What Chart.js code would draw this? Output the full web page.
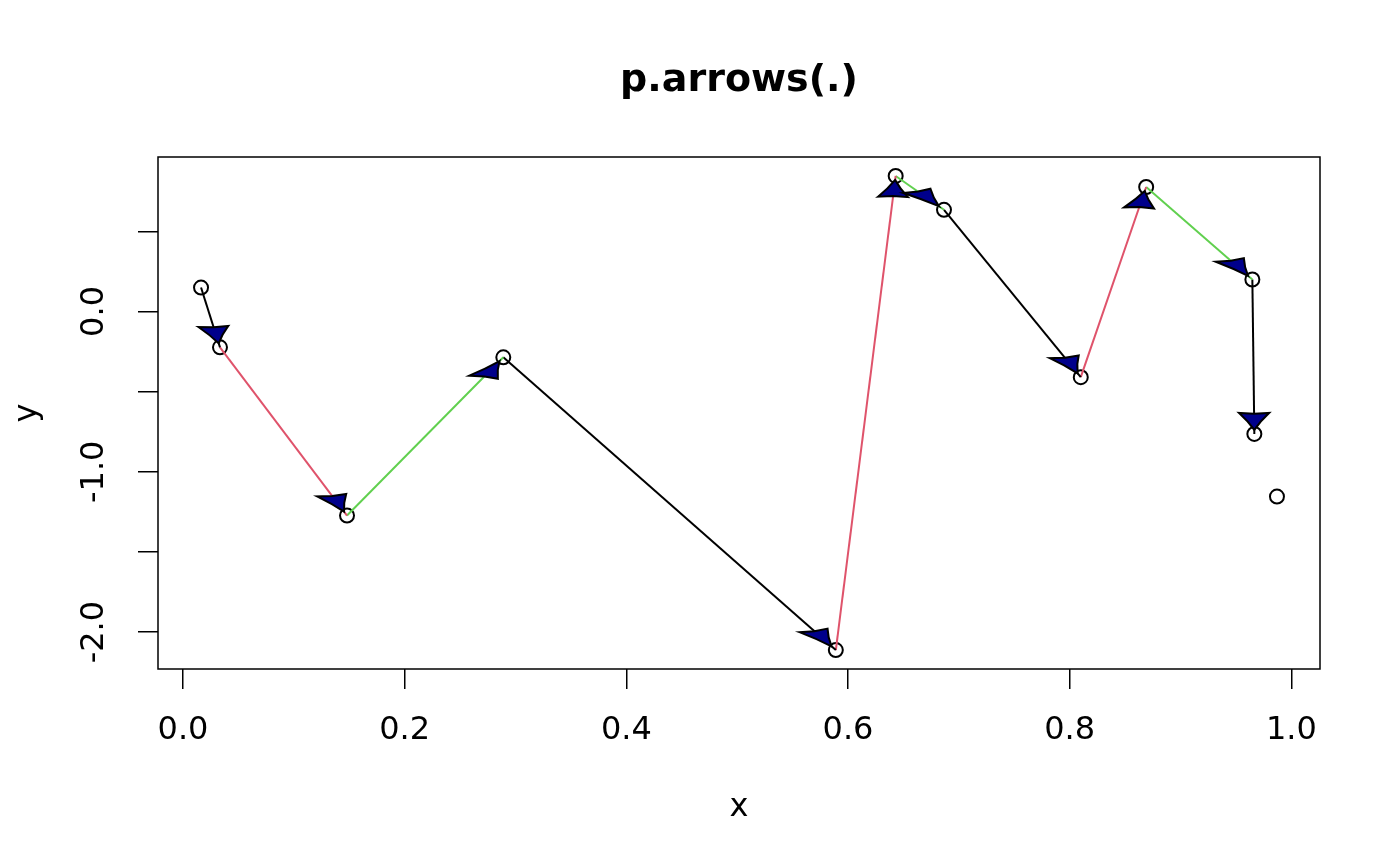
<!DOCTYPE html>
<html>
<head>
<meta charset="utf-8">
<script src="https://cdn.jsdelivr.net/npm/chart.js@4.4.1/dist/chart.umd.min.js"></script>
<style>
  body { margin: 0; background: #fff; }
  #wrap { width: 1400px; height: 866px; }
</style>
</head>
<body>
<div id="wrap"><canvas id="myChart"></canvas></div>
<script>
// points, sorted by x
var xVals = [0.0163, 0.0334, 0.148, 0.289, 0.589, 0.643, 0.6866, 0.810, 0.869, 0.9648, 0.9666, 0.987]
var yVals = [0.149, -0.224, -1.273, -0.286, -2.112, 0.845, 0.634, -0.410, 0.776, 0.199, -0.764, -1.155]
var arrowCols = ['#000000', '#DF536B', '#61D04F']
var nArrows = 10 // last point has no arrow going to it

var xTicks = [0, 0.2, 0.4, 0.6, 0.8, 1.0]
var xTickLabels = ['0.0', '0.2', '0.4', '0.6', '0.8', '1.0']
var yTicks = [-2.0, -1.5, -1.0, -0.5, 0.0, 0.5]
var yTickLabels = ['-2.0', '', '-1.0', '', '0.0', '']
var mainTitle = 'p.arrows(.)'

// R style 4% extension of the data range
function ext(v) {
    var lo = Math.min.apply(null, v), hi = Math.max.apply(null, v)
    var d = (hi - lo) * 0.04
    return [lo - d, hi + d]
}
var xr = ext(xVals)
var yr = ext(yVals)

var datasets = []
for (var i = 0; i < nArrows; i++) {
    datasets.push({
        data: [{x: xVals[i], y: yVals[i]}, {x: xVals[i + 1], y: yVals[i + 1]}],
        showLine: true,
        borderColor: arrowCols[i % 3],
        borderWidth: 2,
        pointRadius: 0
    })
}
// points last so they sit under the arrows
datasets.push({
    data: xVals.map(function(x, i) { return {x: x, y: yVals[i]} }),
    showLine: false,
    pointStyle: 'circle',
    pointRadius: 7,
    pointBorderWidth: 2,
    pointBorderColor: '#000',
    pointBackgroundColor: 'rgba(0,0,0,0)'
})

// arrow heads are built in a space where y is stretched (as p.arrows came out)
var SKEW = 3, HEAD_LEN = 51, HEAD_HALF = 15, TIP_GAP = 12

var arrowHeads = {
    id: 'arrowHeads',
    beforeDatasetsDraw: function(chart) {
        var a = chart.chartArea, ctx = chart.ctx
        ctx.save()
        ctx.strokeStyle = '#000'
        ctx.lineWidth = 1.5
        ctx.strokeRect(a.left, a.top, a.right - a.left, a.bottom - a.top)
        // main title, centred over the plot region like R does
        ctx.fillStyle = '#000'
        ctx.font = 'bold 38px "DejaVu Sans"'
        ctx.textAlign = 'center'
        ctx.textBaseline = 'middle'
        ctx.fillText(mainTitle, (a.left + a.right) / 2, 81)
        ctx.restore()
    },
    afterDatasetsDraw: function(chart) {
        var sx = chart.scales.x, sy = chart.scales.y, ctx = chart.ctx
        ctx.save()
        for (var i = 0; i < nArrows; i++) {
            var x1 = sx.getPixelForValue(xVals[i]), y1 = sy.getPixelForValue(yVals[i])
            var x2 = sx.getPixelForValue(xVals[i + 1]), y2 = sy.getPixelForValue(yVals[i + 1])
            var dx = x2 - x1, dy = (y2 - y1) * SKEW
            var len = Math.sqrt(dx * dx + dy * dy)
            var ux = dx / len, uy = dy / len
            var px = -uy, py = ux
            var P = function(back, side) {
                return [x2 - back * ux + side * px, y2 + (-back * uy + side * py) / SKEW]
            }
            var tip = P(TIP_GAP, 0)
            var b1 = P(TIP_GAP + HEAD_LEN, HEAD_HALF)
            var b2 = P(TIP_GAP + HEAD_LEN, -HEAD_HALF)
            var notch = P(TIP_GAP + HEAD_LEN * 0.95, 0)
            var c1 = P(TIP_GAP + HEAD_LEN * 0.5, HEAD_HALF * 0.38)
            var c2 = P(TIP_GAP + HEAD_LEN * 0.5, -HEAD_HALF * 0.38)
            ctx.beginPath()
            ctx.moveTo(tip[0], tip[1])
            ctx.quadraticCurveTo(c1[0], c1[1], b1[0], b1[1])
            ctx.lineTo(notch[0], notch[1])
            ctx.lineTo(b2[0], b2[1])
            ctx.quadraticCurveTo(c2[0], c2[1], tip[0], tip[1])
            ctx.closePath()
            ctx.fillStyle = '#00008B'
            ctx.fill()
            ctx.lineWidth = 2
            ctx.lineJoin = 'miter'
            ctx.strokeStyle = '#000'
            ctx.stroke()
        }
        ctx.restore()
    }
}

var ctx = document.getElementById('myChart').getContext('2d')
var chart = new Chart(ctx, {
    type: 'scatter',
    data: { datasets: datasets },
    options: {
        responsive: true,
        maintainAspectRatio: false,
        animation: false,
        events: [],
        layout: { padding: { left: 0, right: 80, top: 157, bottom: 0 } },
        plugins: {
            legend: { display: false },
            tooltip: { enabled: false },
            title: { display: false }
        },
        scales: {
            x: {
                type: 'linear',
                min: xr[0],
                max: xr[1],
                afterBuildTicks: function(s) { s.ticks = xTicks.map(function(v) { return {value: v} }) },
                afterFit: function(s) { s.height = 197 },
                border: { display: false },
                grid: { drawOnChartArea: false, drawTicks: true, tickLength: 20, color: '#000', lineWidth: 1.5 },
                ticks: {
                    autoSkip: false,
                    maxRotation: 0,
                    color: '#000',
                    padding: 22,
                    font: { family: 'DejaVu Sans', size: 32 },
                    callback: function(v, i) { return xTickLabels[i] }
                },
                title: {
                    display: true,
                    text: 'x',
                    color: '#000',
                    font: { family: 'DejaVu Sans', size: 32 },
                    padding: { top: 0, bottom: 39 }
                }
            },
            y: {
                type: 'linear',
                min: yr[0],
                max: yr[1],
                afterBuildTicks: function(s) { s.ticks = yTicks.map(function(v) { return {value: v} }) },
                afterFit: function(s) { s.width = 158 },
                border: { display: false },
                grid: { drawOnChartArea: false, drawTicks: true, tickLength: 20, color: '#000', lineWidth: 1.5 },
                ticks: {
                    autoSkip: false,
                    minRotation: 90,
                    maxRotation: 90,
                    crossAlign: 'center',
                    color: '#000',
                    padding: 12,
                    font: { family: 'DejaVu Sans', size: 32 },
                    callback: function(v, i) { return yTickLabels[i] }
                },
                title: {
                    display: true,
                    text: 'y',
                    color: '#000',
                    font: { family: 'DejaVu Sans', size: 32 },
                    padding: { top: 8, bottom: 0 }
                }
            }
        }
    },
    plugins: [arrowHeads]
})
</script>
</body>
</html>
